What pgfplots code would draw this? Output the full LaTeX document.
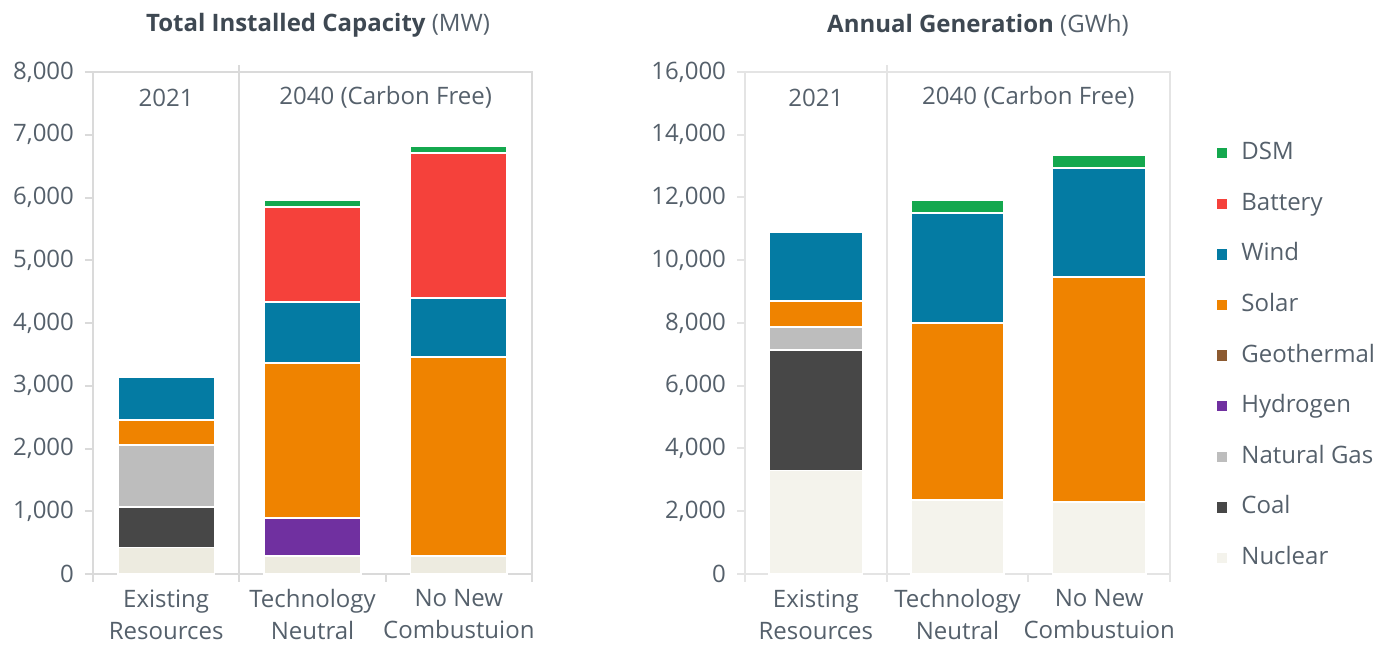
\documentclass[border=0pt]{standalone}
\usepackage{pgfplots}
\pgfplotsset{compat=1.18}
\usepackage{pgfplotstable}
\usepackage{fontspec}
\setmainfont{Open Sans}
\definecolor{cDSM}{HTML}{14A84E}
\definecolor{cBat}{HTML}{F5413B}
\definecolor{cWind}{HTML}{047BA3}
\definecolor{cSolar}{HTML}{EF8300}
\definecolor{cGeo}{HTML}{8C5A30}
\definecolor{cHyd}{HTML}{7030A0}
\definecolor{cGas}{HTML}{BDBDBD}
\definecolor{cCoal}{HTML}{474747}
\definecolor{cNuc}{HTML}{EDEBE0}
\definecolor{cNucB}{HTML}{F4F3EC}
\definecolor{txt}{HTML}{55606B}
\definecolor{ttl}{HTML}{3E4852}
\definecolor{frm}{HTML}{DADADA}
\definecolor{frmB}{HTML}{E4E4E4}

\pgfplotstableread{
x Nuclear Coal Gas Hydrogen Geo Solar Wind Battery DSM
0 420 650 990 0 0 390 690 0 0
1 290 0 0 600 0 2470 970 1520 110
2 290 0 0 0 0 3170 940 2310 110
}\capdata
\pgfplotstableread{
x Nuclear Coal Gas Hydrogen Geo Solar Wind Battery DSM
0 3300 3840 730 0 0 830 2200 0 0
1 2350 0 0 0 0 5650 3500 0 420
2 2300 0 0 0 0 7170 3470 0 410
}\gendata

\pgfplotsset{
  sq/.style={legend image code/.code={\fill[##1,draw=none] (0pt,-2.6pt) rectangle (5pt,2.6pt);}},
  seg/.style={fill=#1, draw=white, line width=0.8pt, sq},
  base/.style={
    scale only axis, height=251pt,
    ybar stacked, bar width=0.66,
    xmin=-0.5, xmax=2.5, ymin=0,
    enlargelimits=false, clip=false,
    scaled y ticks=false,
    tick style={line width=1pt},
    major tick length=4pt, tick align=outside,
    xtick pos=bottom, ytick pos=left,
    xtick={-0.5,0.5,1.5,2.5}, xticklabels={,,,},
    extra x ticks={0,1,2},
    extra x tick labels={{Existing\\Resources},{Technology\\Neutral},{No New\\Combustuion}},
    extra x tick style={major tick length=0pt},
    xticklabel style={align=center, font=\fontsize{12}{16}\selectfont, text=txt, inner sep=0pt, yshift=-7.5pt},
    yticklabel style={font=\fontsize{12}{14}\selectfont, text=txt, xshift=-2pt},
    /pgf/number format/1000 sep={,},
    /pgf/number format/assume math mode=true,
  }
}

\begin{document}
\begin{tikzpicture}[x=1pt,y=1pt]
\path[use as bounding box] (0,0) rectangle (688,323.5);
\node[font=\fontsize{12}{14}\selectfont, text=ttl] at (159,311) {\textbf{Total Installed Capacity} {\color{txt}(MW)}};
\node[font=\fontsize{12}{14}\selectfont, text=ttl] at (489,311) {\textbf{Annual Generation} {\color{txt}(GWh)}};

\begin{axis}[base, at={(46.5pt,36.5pt)}, anchor=south west, width=219.5pt,
  ymax=8000, ytick={0,1000,...,8000},
  axis line style={draw=frm, line width=1pt}, tick style={draw=frm}]
\addplot[seg=cNuc] table[x=x,y=Nuclear]{\capdata};
\addplot[seg=cCoal] table[x=x,y=Coal]{\capdata};
\addplot[seg=cGas] table[x=x,y=Gas]{\capdata};
\addplot[seg=cHyd] table[x=x,y=Hydrogen]{\capdata};
\addplot[seg=cGeo] table[x=x,y=Geo]{\capdata};
\addplot[seg=cSolar] table[x=x,y=Solar]{\capdata};
\addplot[seg=cWind] table[x=x,y=Wind]{\capdata};
\addplot[seg=cBat] table[x=x,y=Battery]{\capdata};
\addplot[seg=cDSM] table[x=x,y=DSM]{\capdata};
\draw[frm, line width=1pt] (axis cs:0.5,0) -- ([yshift=3.5pt]axis cs:0.5,8000);
\node[text=txt, font=\fontsize{12}{14}\selectfont] at (axis cs:0,7590) {2021};
\node[text=txt, font=\fontsize{12}{14}\selectfont] at (axis cs:1.5,7590) {2040 (Carbon Free)};
\end{axis}

\begin{axis}[base, at={(372.5pt,36.5pt)}, anchor=south west, width=212.5pt,
  ymax=16000, ytick={0,2000,...,16000},
  axis line style={draw=frmB, line width=1pt}, tick style={draw=frmB},
  legend style={at={(1.1106,0.862)}, anchor=north west, draw=none, fill=none,
    inner sep=0pt, row sep=13.8pt, column sep=7pt,
    nodes={inner sep=0pt, text height=9pt, text depth=2.5pt, font=\fontsize{12}{14}\selectfont, text=txt}},
  legend cell align=left, reverse legend]
\addplot[seg=cNucB] table[x=x,y=Nuclear]{\gendata};
\addlegendentry{Nuclear}
\addplot[seg=cCoal] table[x=x,y=Coal]{\gendata};
\addlegendentry{Coal}
\addplot[seg=cGas] table[x=x,y=Gas]{\gendata};
\addlegendentry{Natural Gas}
\addplot[seg=cHyd] table[x=x,y=Hydrogen]{\gendata};
\addlegendentry{Hydrogen}
\addplot[seg=cGeo] table[x=x,y=Geo]{\gendata};
\addlegendentry{Geothermal}
\addplot[seg=cSolar] table[x=x,y=Solar]{\gendata};
\addlegendentry{Solar}
\addplot[seg=cWind] table[x=x,y=Wind]{\gendata};
\addlegendentry{Wind}
\addplot[seg=cBat] table[x=x,y=Battery]{\gendata};
\addlegendentry{Battery}
\addplot[seg=cDSM] table[x=x,y=DSM]{\gendata};
\addlegendentry{DSM}
\draw[frmB, line width=1pt] (axis cs:0.5,0) -- ([yshift=3.5pt]axis cs:0.5,16000);
\node[text=txt, font=\fontsize{12}{14}\selectfont] at (axis cs:0,15180) {2021};
\node[text=txt, font=\fontsize{12}{14}\selectfont] at (axis cs:1.5,15180) {2040 (Carbon Free)};
\end{axis}
\end{tikzpicture}
\end{document}
